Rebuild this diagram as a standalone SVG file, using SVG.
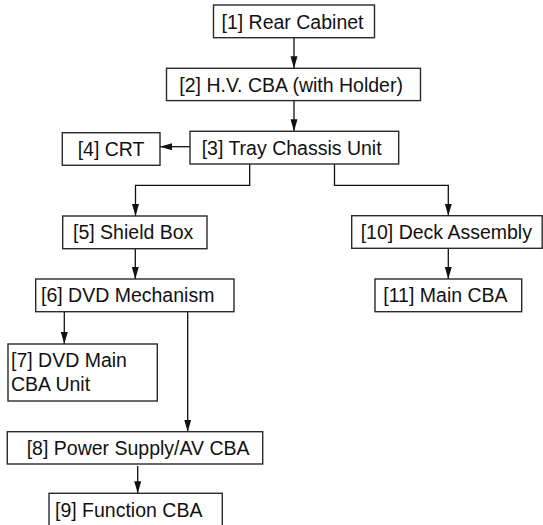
<svg xmlns="http://www.w3.org/2000/svg" width="543" height="525" viewBox="0 0 543 525">
  <style>
    .box { fill: #ffffff; stroke: #2a2a2a; stroke-width: 1.4; }
    .lbl { font-family: "Liberation Sans", Arial, Helvetica, sans-serif; font-size: 19.5px; fill: #111111; }
    .wire { fill: none; stroke: #111111; stroke-width: 1.3; }
  </style>
  <defs>
    <marker id="head" markerUnits="userSpaceOnUse" markerWidth="12" markerHeight="8" refX="12" refY="3.5" orient="auto">
      <path d="M0,0 L12,3.5 L0,7 Z" fill="#111111"/>
    </marker>
  </defs>
  <rect width="543" height="525" fill="#ffffff"/>

  <!-- connectors -->
  <g id="connectors">
    <line class="wire" x1="294" y1="37.7" x2="294" y2="68.3" marker-end="url(#head)"/>
    <line class="wire" x1="294" y1="100.6" x2="294" y2="131.3" marker-end="url(#head)"/>
    <line class="wire" x1="190" y1="146.7" x2="160" y2="146.7" marker-end="url(#head)"/>
    <polyline class="wire" points="249.7,164 249.7,185.3 135.5,185.3 135.5,216" marker-end="url(#head)"/>
    <polyline class="wire" points="334.5,164 334.5,185.3 448.3,185.3 448.3,215.7" marker-end="url(#head)"/>
    <line class="wire" x1="135.3" y1="248.7" x2="135.3" y2="279" marker-end="url(#head)"/>
    <line class="wire" x1="448.3" y1="248.3" x2="448.3" y2="279" marker-end="url(#head)"/>
    <line class="wire" x1="64.3" y1="311.7" x2="64.3" y2="344" marker-end="url(#head)"/>
    <line class="wire" x1="187.7" y1="311.7" x2="187.7" y2="431.7" marker-end="url(#head)"/>
    <line class="wire" x1="137.7" y1="466" x2="137.7" y2="493.3" marker-end="url(#head)"/>
  </g>

  <!-- nodes -->
  <g id="n1">
    <rect class="box" x="213.5" y="5" width="161" height="32.7"/>
    <text class="lbl" x="221.5" y="29">[1] Rear Cabinet</text>
  </g>
  <g id="n2">
    <rect class="box" x="166.5" y="68.3" width="254" height="32.3"/>
    <text class="lbl" x="179.3" y="91.8">[2] H.V. CBA (with Holder)</text>
  </g>
  <g id="n3">
    <rect class="box" x="190" y="131.3" width="208.7" height="32.7"/>
    <text class="lbl" x="201.7" y="155">[3] Tray Chassis Unit</text>
  </g>
  <g id="n4">
    <rect class="box" x="62.3" y="132.7" width="97.7" height="32.6"/>
    <text class="lbl" x="77.7" y="155.5">[4] CRT</text>
  </g>
  <g id="n5">
    <rect class="box" x="62.7" y="216" width="144.3" height="32.7"/>
    <text class="lbl" x="73" y="238.5">[5] Shield Box</text>
  </g>
  <g id="n6">
    <rect class="box" x="35.7" y="279" width="198.3" height="32.7"/>
    <text class="lbl" x="41" y="301.5">[6] DVD Mechanism</text>
  </g>
  <g id="n7">
    <rect class="box" x="8" y="344" width="149.3" height="57"/>
    <text class="lbl" x="11" y="367">[7] DVD Main</text>
    <text class="lbl" x="11" y="391">CBA Unit</text>
  </g>
  <g id="n8">
    <rect class="box" x="7.3" y="431.7" width="255.4" height="32.3"/>
    <text class="lbl" x="26.7" y="454.5">[8] Power Supply/AV CBA</text>
  </g>
  <g id="n9">
    <rect class="box" x="49" y="493.3" width="173.3" height="34"/>
    <text class="lbl" x="55" y="516.7">[9] Function CBA</text>
  </g>
  <g id="n10">
    <rect class="box" x="351.7" y="215.7" width="190.5" height="32.6"/>
    <text class="lbl" x="360.7" y="239">[10] Deck Assembly</text>
  </g>
  <g id="n11">
    <rect class="box" x="375" y="279" width="146.7" height="32.7"/>
    <text class="lbl" x="383.3" y="301.7">[11] Main CBA</text>
  </g>
</svg>
